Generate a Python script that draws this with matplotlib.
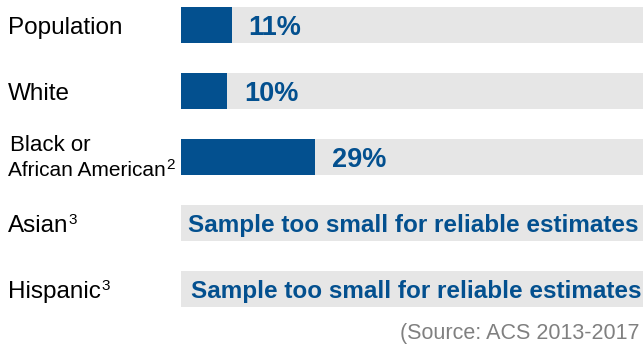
import matplotlib
matplotlib.use('Agg')
import matplotlib.pyplot as plt
import matplotlib.transforms as mtransforms

plt.rcParams['font.family'] = ['Liberation Sans', 'DejaVu Sans']

categories = ['Population', 'White', 'Black or\nAfrican American', 'Asian', 'Hispanic']
footnotes = ['', '', '2', '3', '3']
values = [11, 10, 29, None, None]
small_note = 'Sample too small for reliable estimates'
source = '(Source: ACS 2013-2017'

BLUE = '#03508f'
GRAY = '#e6e6e6'

fig = plt.figure(figsize=(6.43, 3.45), dpi=100)
ax = fig.add_axes([181 / 643, 0, 462 / 643, 1])
ax.set_xlim(0, 100)
ax.set_ylim(4.848, -0.379)
ax.axis('off')

ys = list(range(len(categories)))
h = 36 / 66
ax.barh(ys, [100] * len(ys), height=h, color=GRAY, zorder=1)

for y, v in zip(ys, values):
    if v is None:
        ax.text(1.5 + 0.6 * (y - 3), y, small_note, ha='left', va='center_baseline',
                fontsize=17.5, fontweight='bold', color=BLUE, zorder=3)
    else:
        ax.barh(y, v, height=h, color=BLUE, zorder=2)
        ax.annotate('%d%%' % v, (v, y), xytext=(12, 0), textcoords='offset points',
                    ha='left', va='center_baseline', fontsize=19.5, fontweight='bold',
                    color=BLUE, zorder=3)

# category labels on the left, x in figure units, y in data units
trans = mtransforms.blended_transform_factory(fig.transFigure, ax.transData)
for y, name, fn in zip(ys, categories, footnotes):
    if '\n' in name:
        first, second = name.split('\n')
        ax.text(10 / 643, y - 0.22, first, transform=trans, ha='left',
                va='center_baseline', fontsize=16, color='black')
        t = ax.text(8 / 643, y + 0.18, second, transform=trans, ha='left',
                    va='center_baseline', fontsize=15, color='black')
    else:
        t = ax.text(8 / 643, y, name, transform=trans, ha='left',
                    va='center_baseline', fontsize=17.5, color='black')
    if fn:
        ax.annotate(fn, xy=(1.0, 0.45), xycoords=t, xytext=(0.3, 0),
                    textcoords='offset points', ha='left', va='bottom',
                    fontsize=11, color='black')

fig.text(640 / 643, 14 / 345, source, ha='right', va='center_baseline', fontsize=15.5,
         color='#808080')

fig.savefig('out.png', dpi=100)
